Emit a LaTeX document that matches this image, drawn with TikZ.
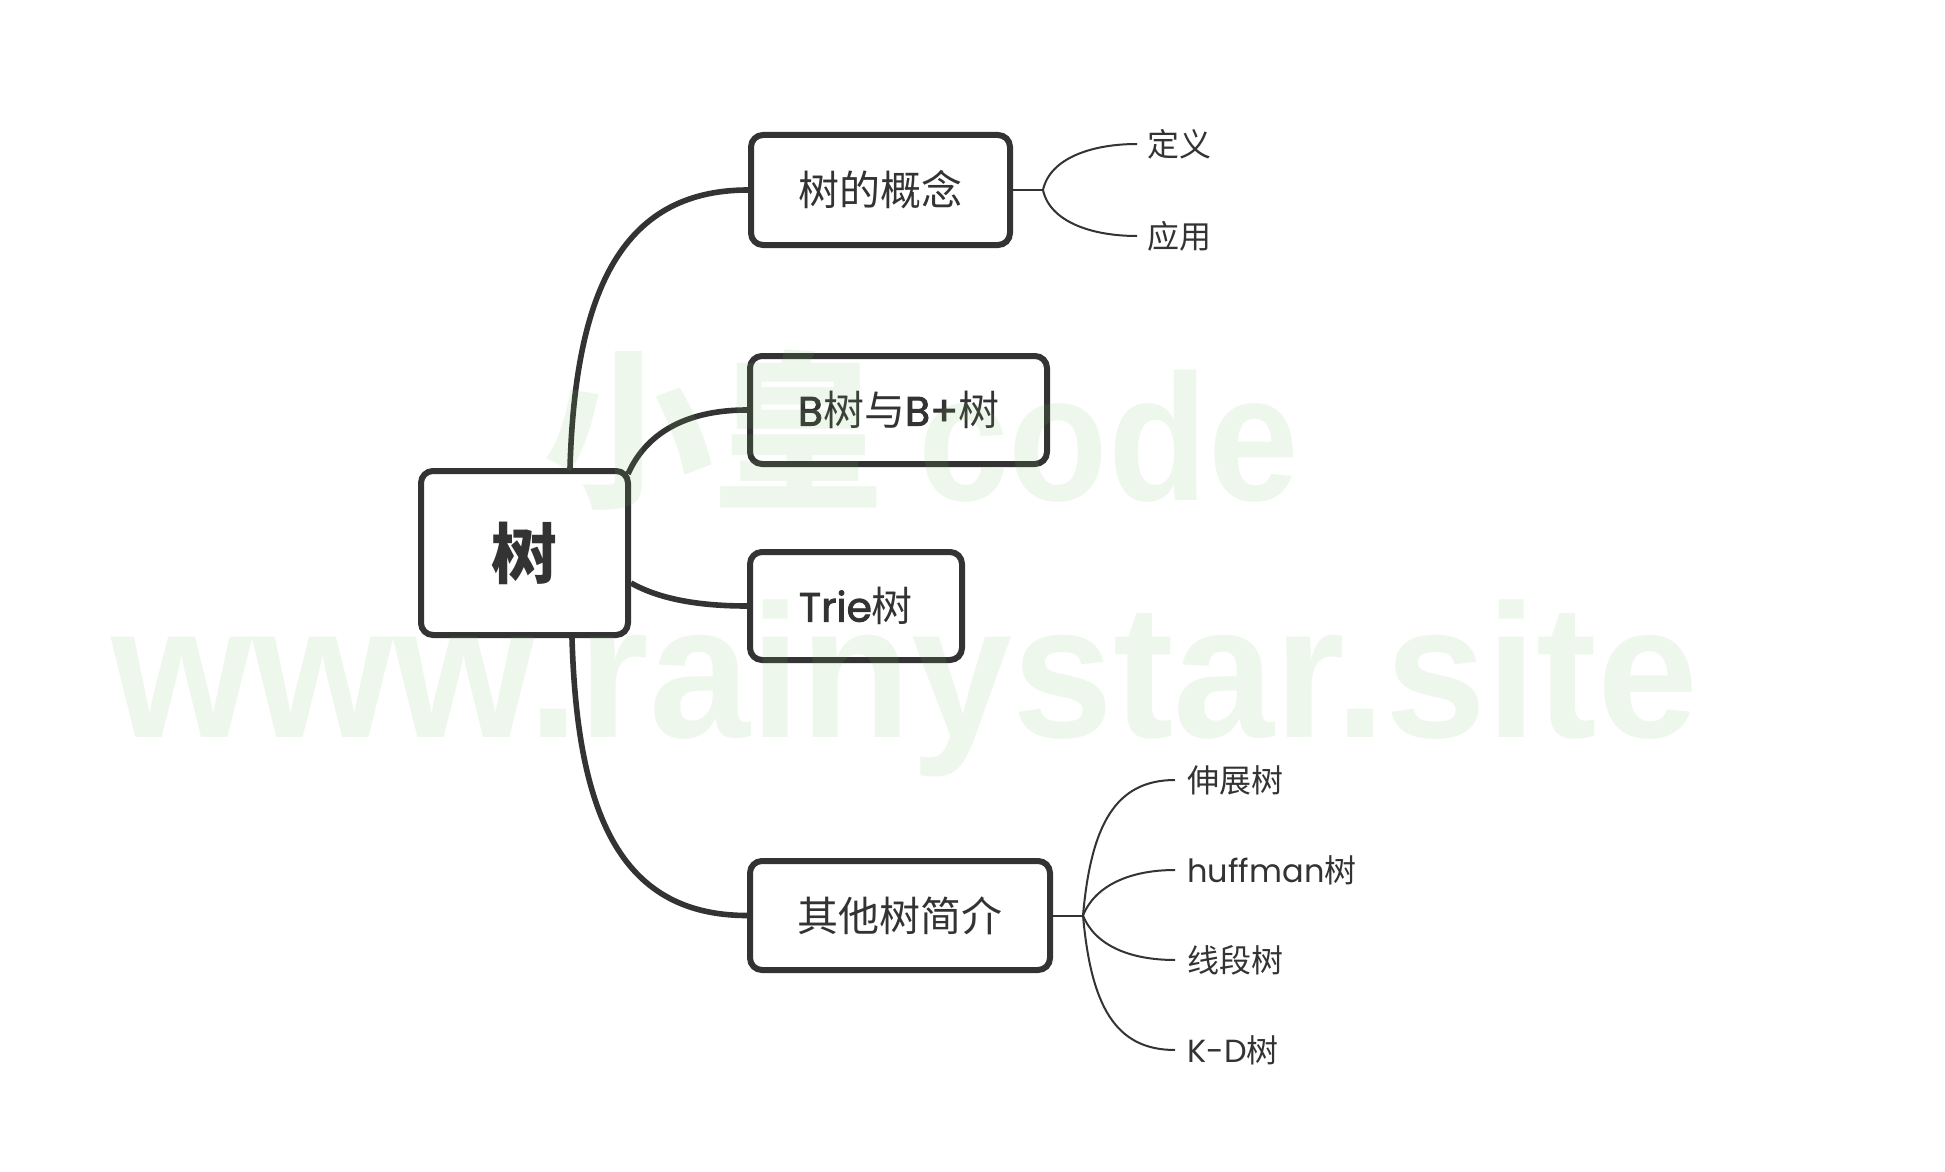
\documentclass[tikz,border=0pt]{standalone}
\usepackage{fontspec}
\setmainfont{Noto Sans CJK SC}
\newfontfamily\latin{Poppins}
\newfontfamily\latinb{Poppins}[FakeBold=2]
\newfontfamily\wmfont{Liberation Sans}
\usetikzlibrary{calc}
\definecolor{inkgray}{RGB}{51,51,51}
\definecolor{wmgreen}{RGB}{120,190,100}

\begin{document}
\begin{tikzpicture}[x=0.5pt, y=-0.5pt,
    topic/.style={rectangle, rounded corners=6pt, draw=inkgray, line width=3pt, fill=white, text=inkgray, font=\fontsize{20.5pt}{24pt}\selectfont, inner sep=0pt},
    rootbox/.style={topic, font=\fontsize{33pt}{36pt}\selectfont\bfseries, minimum width=103.5pt, minimum height=82pt},
    leaf/.style={anchor=west, inner xsep=6pt, inner ysep=0pt, text=inkgray, font=\fontsize{16pt}{19pt}\selectfont},
    branch/.style={draw=inkgray, line width=2.8pt},
    twig/.style={draw=inkgray, line width=1pt},
    wm/.style={text=wmgreen, text opacity=0.12}
]

% Canvas
\fill[white] (0,0) rectangle (1945,1172);
\useasboundingbox (0,0) rectangle (1945,1172);

% Main topics
\node[rootbox] (root) at (524.5,553) {树};
\node[topic, minimum width=129.5pt, minimum height=55pt] (concept) at (880.5,190) {树的概念};
\node[topic, minimum width=148.5pt, minimum height=54pt] (btree) at (898.5,410) {{\latinb B}树与{\latinb B+}树};
\node[topic, minimum width=106pt, minimum height=54pt] (trie) at (856,606) {{\latinb Trie}树};
\node[topic, minimum width=150pt, minimum height=54.5pt] (other) at (900,915.5) {其他树简介};

% Branches from the root
\draw[branch] ($(root.north)+(45.5,0)$) .. controls +(5,-170) and +(-130,0) .. (concept.west);
\draw[branch] ($(root.north east)+(-3,6)$) .. controls +(20,-45) and +(-55,0) .. (btree.west);
\draw[branch] ($(root.east)+(0,30)$) .. controls +(30,17) and +(-45,0) .. (trie.west);
\draw[branch] ($(root.south)+(47.5,0)$) .. controls +(5,170) and +(-130,0) .. (other.west);

% Subtopics of the concept
\coordinate (cfork) at ($(concept.east)+(30,0)$);
\node[leaf, inner xsep=5pt] (define) at (1137,144) {定义};
\node[leaf, inner xsep=5pt] (apply) at (1137,236) {应用};
\draw[twig] (concept.east) -- (cfork);
\draw[twig] (cfork) .. controls +(7,-32) and +(-45,0) .. (define.west);
\draw[twig] (cfork) .. controls +(7,32) and +(-45,0) .. (apply.west);

% Subtopics of the other trees
\coordinate (ofork) at ($(other.east)+(30,0)$);
\node[leaf] (splay) at (1175,780) {伸展树};
\node[leaf] (huff) at (1175,870) {{\latin huffman}树};
\node[leaf] (seg) at (1175,960) {线段树};
\node[leaf] (kd) at (1175,1050) {{\latin K-D}树};
\draw[twig] (other.east) -- (ofork);
\draw[twig] (ofork) .. controls +(8,-90) and +(-60,0) .. (splay.west);
\draw[twig] (ofork) .. controls +(12,-30) and +(-45,0) .. (huff.west);
\draw[twig] (ofork) .. controls +(12,30) and +(-45,0) .. (seg.west);
\draw[twig] (ofork) .. controls +(8,90) and +(-60,0) .. (kd.west);

% Watermark
\node[wm, font=\fontsize{85pt}{85pt}\selectfont\bfseries] (wmname) at (713,430) {小皇};
\node[wm, anchor=base west, inner sep=0pt, font=\wmfont\fontsize{90pt}{90pt}\selectfont\bfseries] (wmcode) at (918,500) {\scalebox{0.905}[1]{code}};
\node[wm, anchor=base west, inner sep=0pt, font=\wmfont\fontsize{95pt}{95pt}\selectfont\bfseries] (wmsite) at (111,737) {\scalebox{0.955}[1]{www.rainystar.site}};

\end{tikzpicture}
\end{document}
